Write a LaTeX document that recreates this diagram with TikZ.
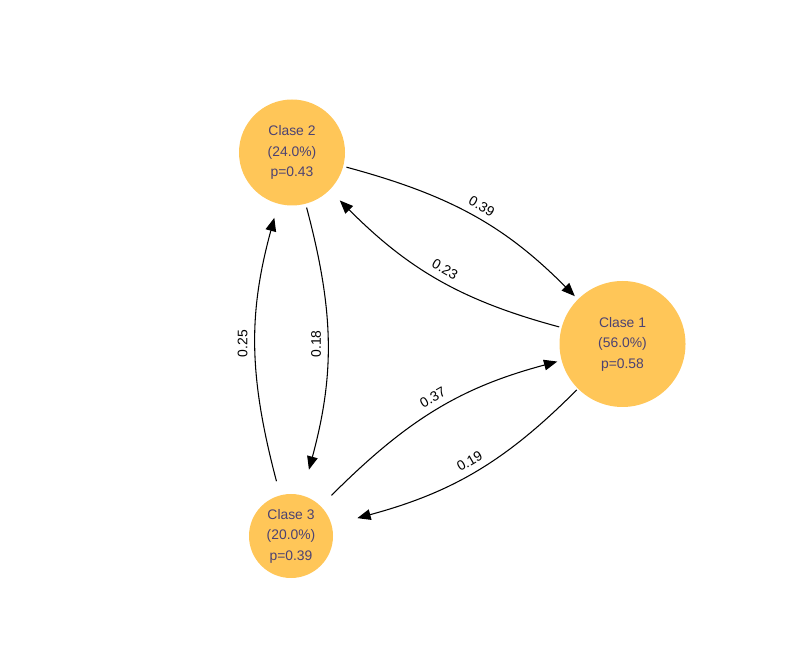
\documentclass[tikz,border=0pt]{standalone}
\usepackage{fontspec}
\setmainfont{Liberation Sans}
\usetikzlibrary{arrows.meta}
\definecolor{clasefill}{RGB}{255,198,88}
\definecolor{clasetext}{RGB}{76,66,114}
\tikzset{%
  % Specifications for style of nodes:
         clase/.style = {circle, fill=clasefill, text=clasetext, inner sep=0pt, align=center, font=\fontsize{10.4}{15.4}\selectfont},
         trans/.style = {-{Triangle[length=10pt,width=8pt]}, line width=0.8pt, bend left=15},
         prob/.style  = {midway, sloped, above=3pt, inner sep=2pt, font=\fontsize{10.4}{12}\selectfont},
}

\begin{document}
\begin{tikzpicture}[x=0.75pt, y=0.75pt]
    \useasboundingbox (0,0) rectangle (805,663);
    % Draw nodes (outer sep = where the arrow tips stop)
    \node (c1) [clase, minimum size=94.5pt, outer sep=3.4pt]  at (622.5,319)  {Clase 1\\(56.0\%)\\p=0.58};
    \node (c2) [clase, minimum size=79.5pt, outer sep=11pt]   at (292,510.5)  {Clase 2\\(24.0\%)\\p=0.43};
    \node (c3) [clase, minimum size=63pt,   outer sep=20pt]   at (291,127)    {Clase 3\\(20.0\%)\\p=0.39};

    % Draw arrows
    \draw[trans, shorten <=-8.5pt] (c2) to node[prob] {0.39} (c1);
    \draw[trans, shorten <=-1.5pt] (c1) to node[prob] {0.23} (c2);
    \draw[trans, shorten <=-8pt]   (c2) to node[prob] {0.18} (c3);
    \draw[trans, shorten <=-9pt]   (c3) to node[prob] {0.25} (c2);
    \draw[trans, shorten <=-8.5pt] (c3) to node[prob] {0.37} (c1);
    \draw[trans, shorten <=-2pt]   (c1) to node[prob] {0.19} (c3);
\end{tikzpicture}
\end{document}
